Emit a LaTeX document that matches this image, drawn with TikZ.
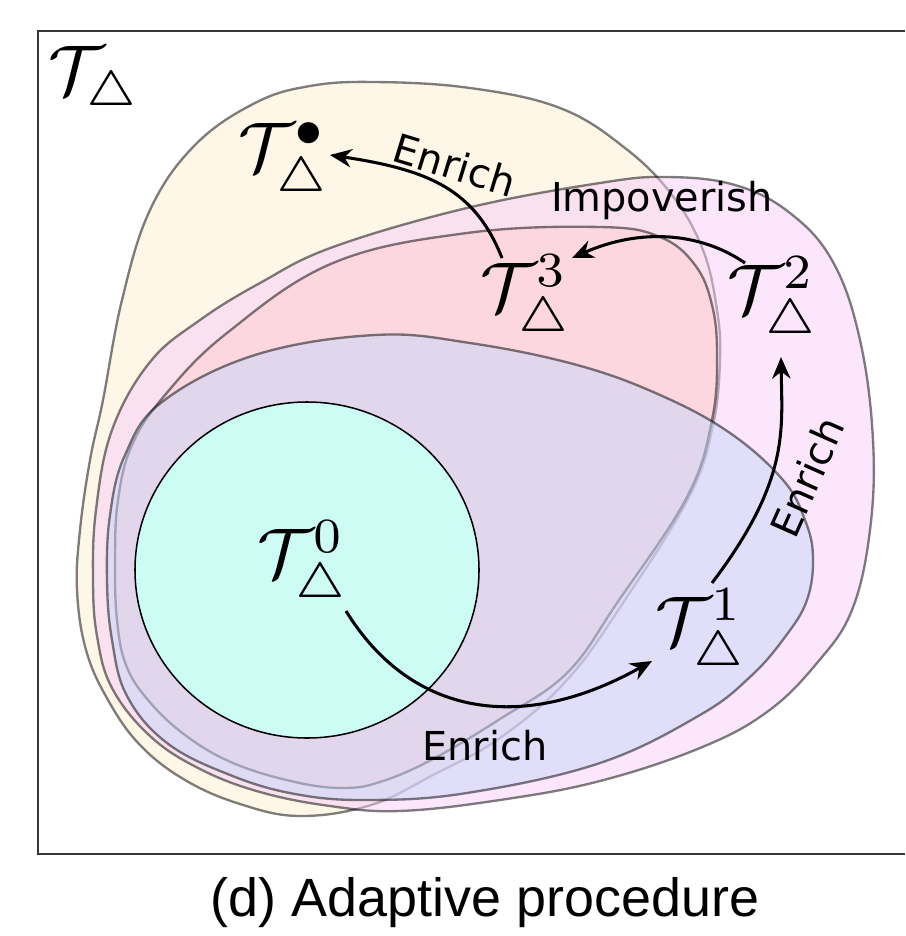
\documentclass[tikz,border=0pt]{standalone}
\usepackage{fontspec}
\newfontfamily\dejavu{DejaVu Sans}
\newfontfamily\arialf{Liberation Sans}
\usetikzlibrary{arrows.meta,calc}
\definecolor{yel}{RGB}{254,246,230}
\definecolor{pnk}{RGB}{247,205,249}
\definecolor{redt}{RGB}{255,207,208}
\definecolor{blu}{RGB}{199,214,250}
\definecolor{cyn}{RGB}{204,252,244}
\definecolor{frm}{RGB}{55,55,55}
\begin{document}
\begin{tikzpicture}[x=0.03cm,y=-0.03cm,
  blob/.style={draw=black, draw opacity=0.5, line width=2pt, fill opacity=0.5},
  mlabel/.style={inner sep=0pt, scale=6, font=\fontsize{10}{12}\selectfont},
  tlabel/.style={inner sep=0pt, font=\dejavu\fontsize{34}{40}\selectfont},
  arr/.style={-{Stealth[length=0.65cm,width=0.55cm]}, line width=2.6pt},
]
\useasboundingbox (0,0) rectangle (905,936);
\draw[frm, line width=1.1pt] (905,31) -- (38,31) -- (38,854) -- (905,854);

% T bullet (yellow)
\path[blob, fill=yel, fill opacity=1] plot[smooth cycle, tension=0.65] coordinates {
(375,82) (470,88) (560,108) (625,148) (672,195) (703,250) (717,310)
(720,360) (713,425) (690,495) (625,600) (567,680) (500,738) (433,775) (371,805)
(300,816) (240,804) (185,780) (140,745) (108,700) (86,650) (77,590)
(80,530) (90,460) (103,400) (122,300) (150,210) (195,145) (255,103) (310,86)};
% T2 (pink outer)
\path[blob, fill=pnk] plot[smooth cycle, tension=0.65] coordinates {
(667,177) (735,185) (790,213) (833,262) (860,340) (873,440) (870,530)
(852,610) (817,663) (767,712) (700,748) (600,781) (500,800) (400,811) (330,806)
(260,792) (200,769) (150,736) (112,688) (97,636) (93,580) (96,510) (112,430)
(150,362) (200,320) (260,283) (333,247) (467,208) (600,183)};
% T3 (red)
\path[blob, fill=redt] plot[smooth cycle, tension=0.65] coordinates {
(600,227) (660,237) (695,265) (712,305) (717,355) (712,420) (687,497) (617,603)
(567,673) (500,719) (433,759) (383,781) (345,788) (295,782) (233,763) (185,735)
(148,700) (126,665) (117,620) (115,560) (118,500) (132,445) (165,395) (227,333)
(333,263) (467,233)};
% T1 (blue)
\path[blob, fill=blu] plot[smooth cycle, tension=0.65] coordinates {
(375,335) (470,343) (577,365) (660,395) (730,433) (783,480) (805,520)
(813,557) (807,600) (785,637) (750,677) (700,715) (600,763) (467,793) (367,800)
(295,794) (230,775) (167,743) (127,696) (112,640) (107,580) (110,515) (125,455)
(162,402) (255,355)};
% T0 (cyan)
\draw[fill=cyn, line width=1.3pt] (307,570) ellipse [x radius=5.16cm, y radius=5.04cm];

% labels
\node[mlabel] (tall) at (94,81) {$\mathcal{T}_{\triangle}$};
\node[mlabel] (tb) at (284,162) {$\mathcal{T}^{\bullet}_{\triangle}$};
\node[mlabel] (t3) at (526,298) {$\mathcal{T}^{3}_{\triangle}$};
\node[mlabel] (t2) at (773,300) {$\mathcal{T}^{2}_{\triangle}$};
\node[mlabel] (t0) at (303,564) {$\mathcal{T}^{0}_{\triangle}$};
\node[mlabel] (t1) at (701,632) {$\mathcal{T}^{1}_{\triangle}$};

\coordinate (s0) at ($(t0)+(43,47)$);
\coordinate (e0) at ($(t1)+(-49,29)$);
\coordinate (s1) at ($(t1)+(11,-49)$);
\coordinate (e1) at ($(t2)+(8,57)$);
\coordinate (s2) at ($(t2)+(-28,-37)$);
\coordinate (e2) at ($(t3)+(46,-40)$);
\coordinate (s3) at ($(t3)+(-24,-40)$);
\coordinate (e3) at ($(tb)+(46,-7)$);

\draw[arr] (s0) .. controls (410,715) and (520,735) .. (e0);
\draw[arr] (s1) .. controls (790,480) and (782,430) .. (e1);
\draw[arr] (s2) .. controls (700,232) and (640,228) .. (e2);
\draw[arr] (s3) .. controls (475,190) and (430,170) .. (e3);

\node[tlabel] (en0) at (485,746) {Enrich};
\node[tlabel, rotate=66] (en1) at (807,477) {Enrich};
\node[tlabel] (imp) at (662,201) {Impoverish};
\node[tlabel, rotate=-17] (en3) at (455,165) {Enrich};

\node[inner sep=0pt, font=\arialf\fontsize{46}{55}\selectfont] (cap) at (485,903) {(d) Adaptive procedure};
\end{tikzpicture}
\end{document}
